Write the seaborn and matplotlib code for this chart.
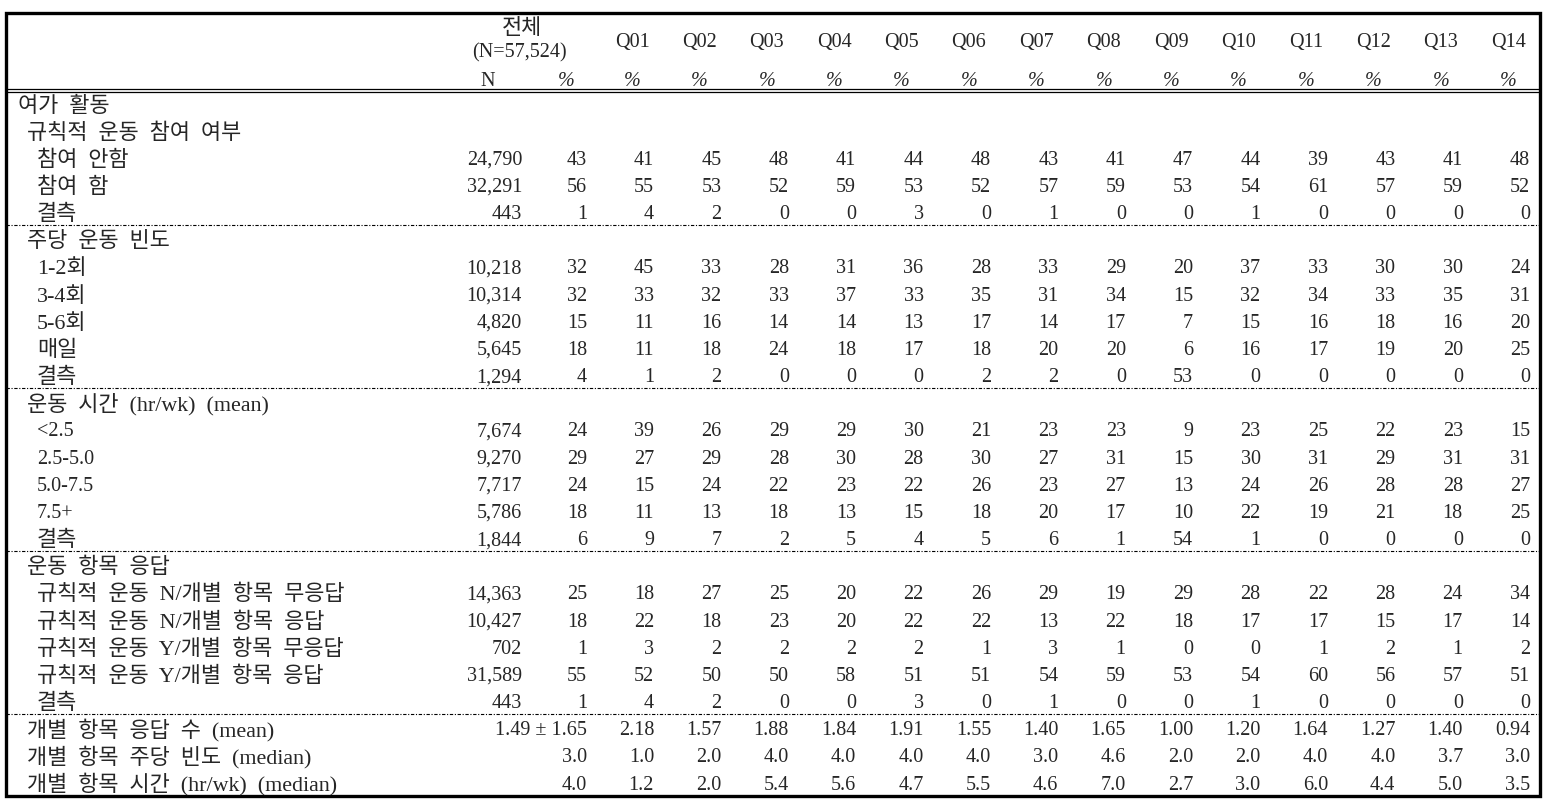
import matplotlib
matplotlib.use("Agg")
import matplotlib.pyplot as plt
from matplotlib.patches import Rectangle
import seaborn as sns

sns.set_theme(style="white")
plt.rcParams['font.family'] = ['Liberation Serif', 'Noto Sans CJK KR', 'DejaVu Sans']

# column headers
q_labels = ['Q%02d' % i for i in range(1, 15)]
total_header = ['전체', '(N=57,524)']

# row labels and indent level (0 = section, 1 = sub-section, 2 = item)
row_labels = [
    '여가 활동',
    '규칙적 운동 참여 여부', '참여 안함', '참여 함', '결측',
    '주당 운동 빈도', '1-2회', '3-4회', '5-6회', '매일', '결측',
    '운동 시간 (hr/wk) (mean)', '<2.5', '2.5-5.0', '5.0-7.5', '7.5+', '결측',
    '운동 항목 응답', '규칙적 운동 N/개별 항목 무응답', '규칙적 운동 N/개별 항목 응답',
    '규칙적 운동 Y/개별 항목 무응답', '규칙적 운동 Y/개별 항목 응답', '결측',
    '개별 항목 응답 수 (mean)', '개별 항목 주당 빈도 (median)', '개별 항목 시간 (hr/wk) (median)',
]
row_levels = [0, 1, 2, 2, 2, 1, 2, 2, 2, 2, 2, 1, 2, 2, 2, 2, 2, 1, 2, 2, 2, 2, 2, 1, 1, 1]

# total N and % (전체)
total_n = ['', '', '24,790', '32,291', '443',
           '', '10,218', '10,314', '4,820', '5,645', '1,294',
           '', '7,674', '9,270', '7,717', '5,786', '1,844',
           '', '14,363', '10,427', '702', '31,589', '443',
           '', '', '']
total_pct = ['', '', '43', '56', '1',
             '', '32', '32', '15', '18', '4',
             '', '24', '29', '24', '18', '6',
             '', '25', '18', '1', '55', '1',
             '1.49 ± 1.65', '3.0', '4.0']

# Q01..Q14 values per row
participation = [
    [41, 45, 48, 41, 44, 48, 43, 41, 47, 44, 39, 43, 41, 48],
    [55, 53, 52, 59, 53, 52, 57, 59, 53, 54, 61, 57, 59, 52],
    [4, 2, 0, 0, 3, 0, 1, 0, 0, 1, 0, 0, 0, 0],
]
frequency = [
    [45, 33, 28, 31, 36, 28, 33, 29, 20, 37, 33, 30, 30, 24],
    [33, 32, 33, 37, 33, 35, 31, 34, 15, 32, 34, 33, 35, 31],
    [11, 16, 14, 14, 13, 17, 14, 17, 7, 15, 16, 18, 16, 20],
    [11, 18, 24, 18, 17, 18, 20, 20, 6, 16, 17, 19, 20, 25],
    [1, 2, 0, 0, 0, 2, 2, 0, 53, 0, 0, 0, 0, 0],
]
duration = [
    [39, 26, 29, 29, 30, 21, 23, 23, 9, 23, 25, 22, 23, 15],
    [27, 29, 28, 30, 28, 30, 27, 31, 15, 30, 31, 29, 31, 31],
    [15, 24, 22, 23, 22, 26, 23, 27, 13, 24, 26, 28, 28, 27],
    [11, 13, 18, 13, 15, 18, 20, 17, 10, 22, 19, 21, 18, 25],
    [9, 7, 2, 5, 4, 5, 6, 1, 54, 1, 0, 0, 0, 0],
]
response = [
    [18, 27, 25, 20, 22, 26, 29, 19, 29, 28, 22, 28, 24, 34],
    [22, 18, 23, 20, 22, 22, 13, 22, 18, 17, 17, 15, 17, 14],
    [3, 2, 2, 2, 2, 1, 3, 1, 0, 0, 1, 2, 1, 2],
    [52, 50, 50, 58, 51, 51, 54, 59, 53, 54, 60, 56, 57, 51],
    [4, 2, 0, 0, 3, 0, 1, 0, 0, 1, 0, 0, 0, 0],
]
item_count_mean = [2.18, 1.57, 1.88, 1.84, 1.91, 1.55, 1.40, 1.65, 1.00, 1.20, 1.64, 1.27, 1.40, 0.94]
item_freq_median = [1.0, 2.0, 4.0, 4.0, 4.0, 4.0, 3.0, 4.6, 2.0, 2.0, 4.0, 4.0, 3.7, 3.0]
item_time_median = [1.2, 2.0, 5.4, 5.6, 4.7, 5.5, 4.6, 7.0, 2.7, 3.0, 6.0, 4.4, 5.0, 3.5]

# assemble Q cells row by row (None for heading rows)
q_rows = [None, None]
q_rows += [[str(v) for v in r] for r in participation]
q_rows += [None] + [[str(v) for v in r] for r in frequency]
q_rows += [None] + [[str(v) for v in r] for r in duration]
q_rows += [None] + [[str(v) for v in r] for r in response]
q_rows += [['%.2f' % v for v in item_count_mean],
           ['%.1f' % v for v in item_freq_median],
           ['%.1f' % v for v in item_time_median]]

section_breaks = [4, 10, 16, 22]   # dashed rule after these rows

# ---- layout ----
W, H = 1562, 808
left, right, top, bottom = 5.5, 1540, 12.5, 796
row0, pitch = 103, 27.16
base_off = 7.5
n_right, pct_right = 522, 587
q_right0, q_step = 654, 67.4
indent = {0: 18, 1: 27, 2: 37}
num_fs, lab_fs = 14.5, 15.8


def has_hangul(s):
    return any('\uac00' <= c <= '\ud7a3' for c in s)


fig = plt.figure(figsize=(W / 100, H / 100), dpi=100)
ax = fig.add_axes([0, 0, 1, 1])
ax.set_xlim(0, W)
ax.set_ylim(H, 0)
ax.axis('off')

# header
ax.text(n_right, 26 + base_off + 1, total_header[0], ha='center', va='baseline', fontsize=lab_fs)
ax.text(n_right - 3, 50 + base_off, total_header[1], ha='center', va='baseline', fontsize=num_fs)
ax.text(n_right - 34, 78 + base_off, 'N', ha='center', va='baseline', fontsize=num_fs)
ax.text(pct_right - 21, 78 + base_off, '%', ha='center', va='baseline', fontsize=num_fs, style='italic')
for j, q in enumerate(q_labels):
    xr = q_right0 + j * q_step
    ax.text(xr - 22, 39 + base_off, q, ha='center', va='baseline', fontsize=num_fs)
    ax.text(xr - 22, 78 + base_off, '%', ha='center', va='baseline', fontsize=num_fs, style='italic')

# body
for i, lab in enumerate(row_labels):
    y = row0 + i * pitch + base_off
    if has_hangul(lab):
        ax.text(indent[row_levels[i]], y + 1, lab.replace(' ', '  '), ha='left',
                va='baseline', fontsize=lab_fs)
    else:
        ax.text(indent[row_levels[i]], y, lab, ha='left', va='baseline', fontsize=num_fs)
    if total_n[i]:
        ax.text(n_right, y, total_n[i], ha='right', va='baseline', fontsize=num_fs)
    if total_pct[i]:
        ax.text(pct_right, y, total_pct[i], ha='right', va='baseline', fontsize=num_fs)
    if q_rows[i] is not None:
        for j, v in enumerate(q_rows[i]):
            ax.text(q_right0 + j * q_step, y, v, ha='right', va='baseline', fontsize=num_fs)

# rules
ax.plot([left, right], [89, 89], color='black', lw=0.9)
ax.plot([left, right], [92, 92], color='black', lw=0.9)
for b in section_breaks:
    y = row0 + (b + 0.5) * pitch
    ax.plot([left, right], [y, y], color='black', lw=0.8, linestyle=(0, (3, 1.5, 1, 1.5)))
ax.add_patch(Rectangle((left, top), right - left, bottom - top, fill=False,
                       edgecolor='black', lw=2.4))

fig.savefig('out.png', dpi=100)
